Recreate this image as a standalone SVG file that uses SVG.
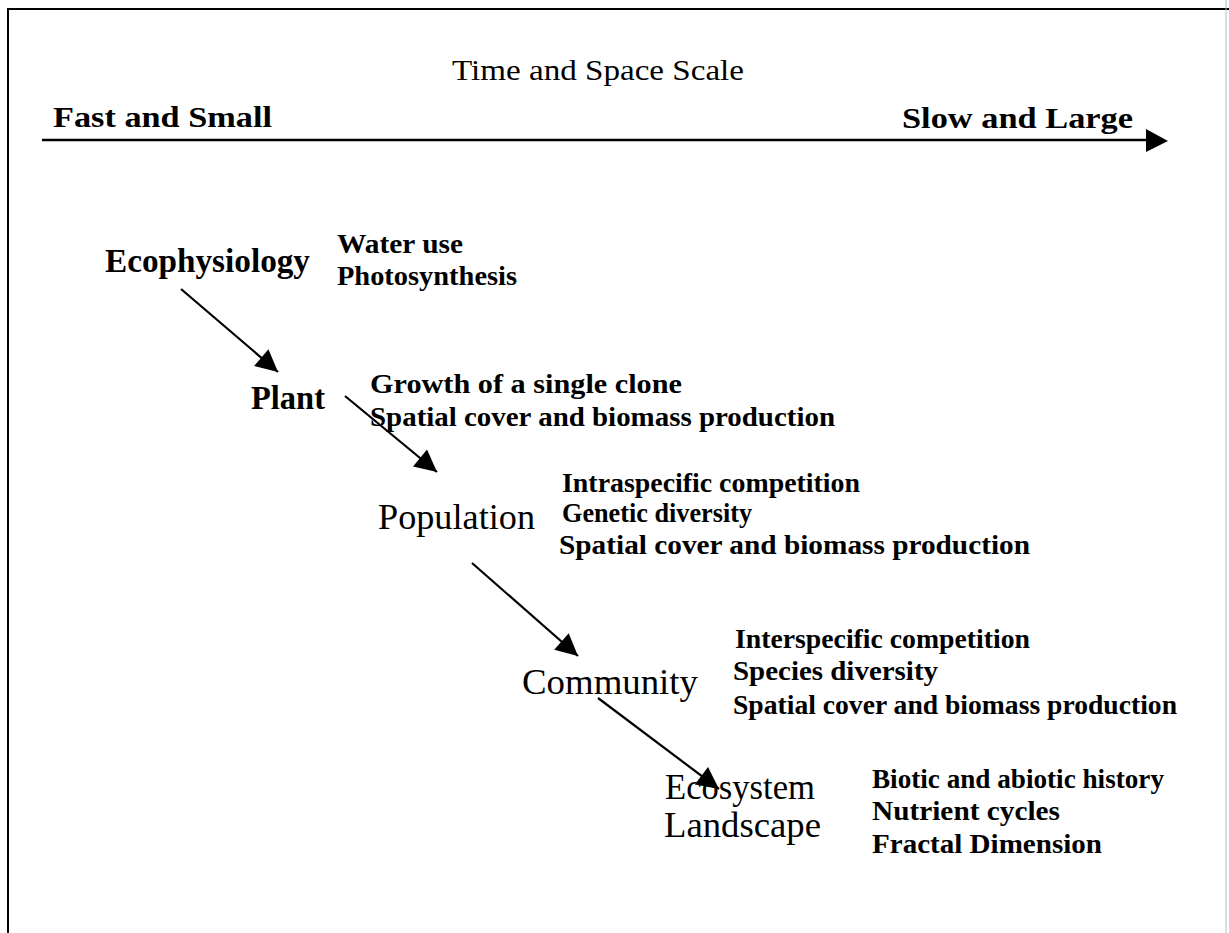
<svg xmlns="http://www.w3.org/2000/svg" width="1229" height="933" viewBox="0 0 1229 933">
  <style>
    .frame { stroke: #000; stroke-width: 2; fill: none; }
    .axis { stroke: #000; stroke-width: 2.5; }
    .title { font-family: "Liberation Serif", "Times New Roman", serif; font-size: 30px; fill: #000; }
    .end { font-family: "Liberation Serif", "Times New Roman", serif; font-size: 30px; font-weight: bold; fill: #000; }
    .level { font-family: "Liberation Serif", "Times New Roman", serif; font-size: 36px; fill: #000; }
    .levelb { font-family: "Liberation Serif", "Times New Roman", serif; font-size: 34px; font-weight: bold; fill: #000; }
    .note { font-family: "Liberation Serif", "Times New Roman", serif; font-size: 27px; font-weight: bold; fill: #000; }
    .conn { stroke: #000; stroke-width: 2.2; fill: none; marker-end: url(#head); }
  </style>
  <defs>
    <marker id="head" viewBox="0 0 10 10" refX="10" refY="5" markerWidth="25" markerHeight="22" markerUnits="userSpaceOnUse" orient="auto">
      <path d="M0,0 L10,5 L0,10 z" fill="#000"/>
    </marker>
  </defs>

  <rect width="1229" height="933" fill="#fff"/>

  <!-- page frame (open at the bottom) -->
  <path class="frame" d="M8,933 V9 H1229"/>
  <line x1="1226" y1="0" x2="1226" y2="933" stroke="#bbb" stroke-width="1"/>

  <!-- scale axis -->
  <g id="scale">
    <text class="title" x="452" y="80" textLength="292" lengthAdjust="spacingAndGlyphs">Time and Space Scale</text>
    <text class="end" x="53" y="127" textLength="219" lengthAdjust="spacingAndGlyphs">Fast and Small</text>
    <text class="end" x="902" y="128" textLength="231" lengthAdjust="spacingAndGlyphs">Slow and Large</text>
    <line class="axis" x1="42" y1="140" x2="1148" y2="140"/>
    <polygon points="1146,129 1168,141 1146,152" fill="#000"/>
  </g>

  <!-- levels -->
  <g id="ecophysiology">
    <text class="levelb" x="105" y="272" textLength="205" lengthAdjust="spacingAndGlyphs">Ecophysiology</text>
    <text class="note" x="337" y="253" textLength="126" lengthAdjust="spacingAndGlyphs">Water use</text>
    <text class="note" x="337" y="285" textLength="180" lengthAdjust="spacingAndGlyphs">Photosynthesis</text>
  </g>

  <g id="plant">
    <text class="levelb" x="251" y="409" textLength="74" lengthAdjust="spacingAndGlyphs">Plant</text>
    <text class="note" x="370" y="393" textLength="312" lengthAdjust="spacingAndGlyphs">Growth of a single clone</text>
    <text class="note" x="370" y="426" textLength="465" lengthAdjust="spacingAndGlyphs">Spatial cover and biomass production</text>
  </g>

  <g id="population">
    <text class="level" x="378" y="529" textLength="157" lengthAdjust="spacingAndGlyphs">Population</text>
    <text class="note" x="562" y="492" textLength="298" lengthAdjust="spacingAndGlyphs">Intraspecific competition</text>
    <text class="note" x="562" y="522" textLength="190" lengthAdjust="spacingAndGlyphs">Genetic diversity</text>
    <text class="note" x="559" y="554" textLength="471" lengthAdjust="spacingAndGlyphs">Spatial cover and biomass production</text>
  </g>

  <g id="community">
    <text class="level" x="522" y="694" textLength="176" lengthAdjust="spacingAndGlyphs">Community</text>
    <text class="note" x="735" y="648" textLength="295" lengthAdjust="spacingAndGlyphs">Interspecific competition</text>
    <text class="note" x="733" y="680" textLength="205" lengthAdjust="spacingAndGlyphs">Species  diversity</text>
    <text class="note" x="733" y="714" textLength="444" lengthAdjust="spacingAndGlyphs">Spatial cover and biomass production</text>
  </g>

  <g id="ecosystem">
    <text class="level" x="665" y="799" textLength="150" lengthAdjust="spacingAndGlyphs">Ecosystem</text>
    <text class="level" x="664" y="837" textLength="157" lengthAdjust="spacingAndGlyphs">Landscape</text>
    <text class="note" x="872" y="788" textLength="292" lengthAdjust="spacingAndGlyphs">Biotic and abiotic history</text>
    <text class="note" x="872" y="820" textLength="188" lengthAdjust="spacingAndGlyphs">Nutrient cycles</text>
    <text class="note" x="872" y="853" textLength="230" lengthAdjust="spacingAndGlyphs">Fractal Dimension</text>
  </g>

  <!-- connectors between levels -->
  <g id="connectors">
    <line class="conn" x1="181" y1="289" x2="278" y2="372"/>
    <line class="conn" x1="345" y1="396" x2="437" y2="472"/>
    <line class="conn" x1="472" y1="563" x2="578" y2="656"/>
    <line class="conn" x1="598" y1="698" x2="719" y2="789"/>
  </g>
</svg>
